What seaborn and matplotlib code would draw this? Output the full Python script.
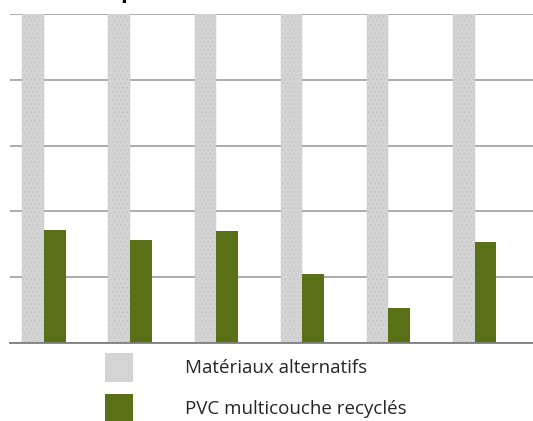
import numpy as np
import pandas as pd
import seaborn as sns
import matplotlib.pyplot as plt
from matplotlib.patches import Patch

groupes = ["1", "2", "3", "4", "5", "6"]
alternatifs = [100, 100, 100, 100, 100, 100]
pvc_recycle = [34.3, 31.3, 34.0, 20.9, 10.5, 30.7]
series = ["Matériaux alternatifs", "PVC multicouche recyclés"]
couleurs = ["#d4d4d4", "#5a7016"]

sns.set_theme(style="white")
plt.rcParams['font.family'] = ['Open Sans', 'DejaVu Sans']
plt.rcParams['hatch.color'] = '#bdbdbd'
plt.rcParams['hatch.linewidth'] = 0.6

r = pd.DataFrame()
r["groupe"] = groupes
r[series[0]] = alternatifs
r[series[1]] = pvc_recycle
r = pd.melt(r, id_vars=["groupe"], value_vars=series,
            var_name="serie", value_name="valeur")

fig = plt.figure(figsize=(5.33, 4.21), dpi=100)
ax = fig.add_axes([10 / 533, (421 - 343) / 421, 1 - 10 / 533, (343 - 14) / 421])

sns.barplot(data=r, x="groupe", y="valeur", hue="serie", palette=couleurs,
            width=0.51, ax=ax, legend=False, saturation=1)

# texture approx. pour les barres grises
for p in ax.containers[0]:
    p.set_hatch("....")
    p.set_edgecolor("#c6c6c6")
    p.set_linewidth(0.3)
for p in ax.containers[1]:
    p.set_linewidth(0)

ax.set_xlim(-0.4, 5.68)
ax.set_ylim(0, 100)
ax.set_yticks([0, 20, 40, 60, 80, 100])
ax.yaxis.grid(True, color="#a6a6a6", linewidth=1.3)
ax.set_axisbelow(True)
ax.set_xticks([])
ax.set_yticklabels([])
ax.tick_params(left=False, bottom=False)
ax.set_xlabel("")
ax.set_ylabel("")
for s in ["left", "right", "top"]:
    ax.spines[s].set_visible(False)
ax.spines["bottom"].set_color("#7f7f7f")
ax.spines["bottom"].set_linewidth(1.3)

poignees = [Patch(facecolor=couleurs[0], hatch="....", edgecolor="#d4d4d4", linewidth=0),
            Patch(facecolor=couleurs[1], linewidth=0)]
fig.legend(poignees, series, loc="upper left", bbox_to_anchor=(105 / 533, 1 - 353 / 421),
           frameon=False, fontsize=13.5, borderpad=0, borderaxespad=0,
           handlelength=1.5, handleheight=2.0, handletextpad=2.77,
           labelspacing=0.64)

fig.text(127 / 533, 1 + 2 / 421, "p", fontsize=16, fontweight="bold",
         ha="center", va="baseline", color="#000000")

fig.savefig("out.png", dpi=100)
